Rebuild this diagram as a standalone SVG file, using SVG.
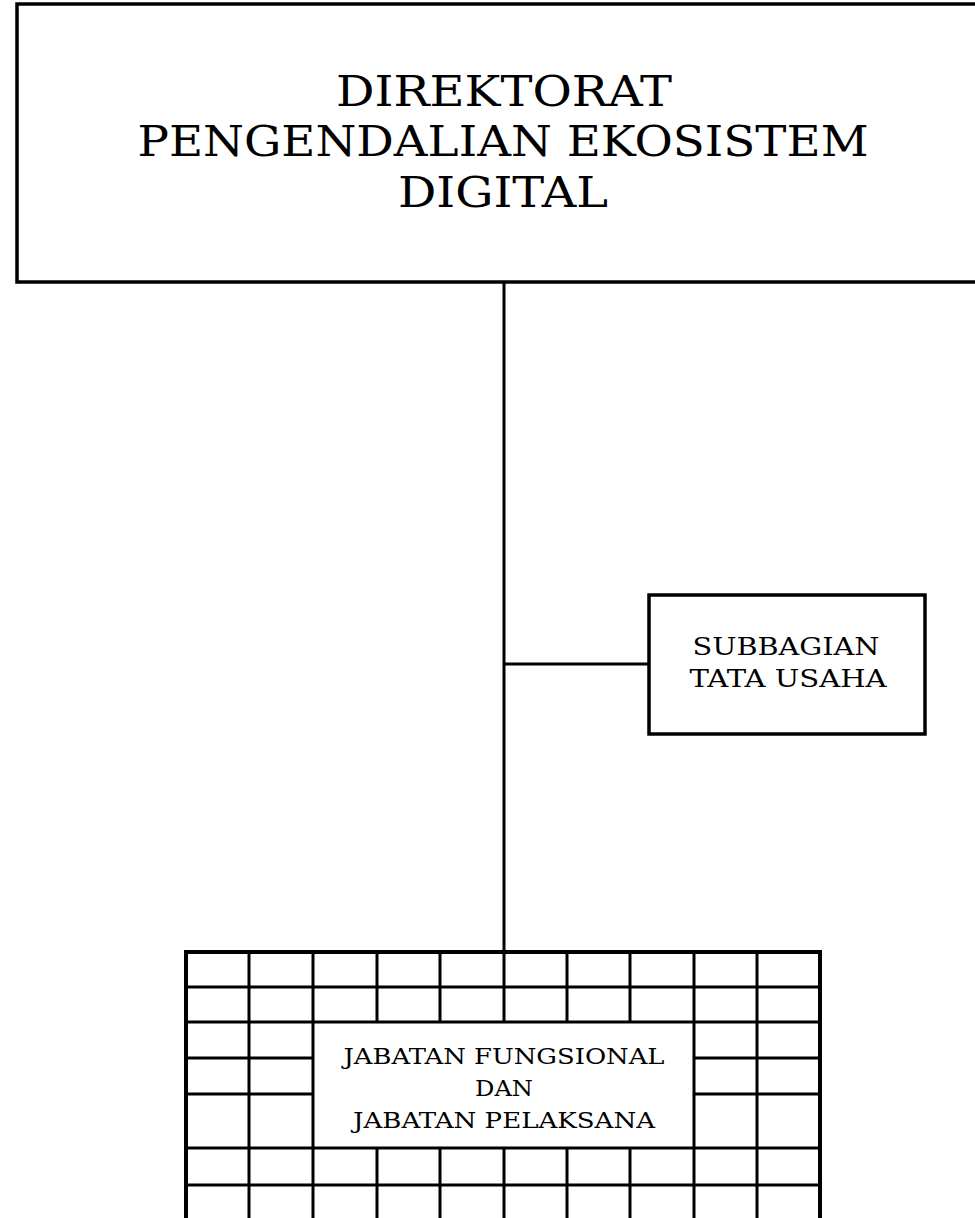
<svg xmlns="http://www.w3.org/2000/svg" width="975" height="1218" viewBox="0 0 975 1218">
<style>
.box{fill:#fff;stroke:#000;stroke-width:3.5}
.ln{stroke:#000;stroke-width:3;fill:none}
.ob{stroke:#000;stroke-width:4;fill:none}
text{font-family:"DejaVu Serif","Liberation Serif",serif;fill:#000;text-anchor:middle}
.t1{font-size:42px}
.t2{font-size:25px}
.t3{font-size:22px}
</style>
<rect width="975" height="1218" fill="#fff"/>
<g id="connectors">
<line class="ln" x1="504" y1="282" x2="504" y2="952"/>
<line class="ln" x1="504" y1="664" x2="649" y2="664"/>
</g>
<g id="direktorat">
<rect class="box" x="17" y="4" width="970" height="278"/>
<text class="t1" x="504" y="106" textLength="336" lengthAdjust="spacingAndGlyphs">DIREKTORAT</text>
<text class="t1" x="503" y="156" textLength="731" lengthAdjust="spacingAndGlyphs">PENGENDALIAN EKOSISTEM</text>
<text class="t1" x="503" y="207" textLength="210" lengthAdjust="spacingAndGlyphs">DIGITAL</text>
</g>
<g id="subbagian">
<rect class="box" x="649" y="595" width="276" height="139"/>
<text class="t2" x="786" y="655" textLength="187" lengthAdjust="spacingAndGlyphs">SUBBAGIAN</text>
<text class="t2" x="788" y="687" textLength="197" lengthAdjust="spacingAndGlyphs">TATA USAHA</text>
</g>
<g id="jabatan">
<rect x="186" y="952" width="634" height="270" fill="#fff"/>
<!-- full horizontal lines -->
<path class="ln" d="M186 987H820M186 1022H820M186 1148H820M186 1185H820"/>
<!-- side horizontal lines -->
<path class="ln" d="M186 1058H313M186 1094H313M694 1058H820M694 1094H820"/>
<!-- full vertical lines -->
<path class="ln" d="M249 952V1222M313 952V1222M694 952V1222M757 952V1222"/>
<!-- interrupted vertical lines -->
<path class="ln" d="M377 952V1022M440 952V1022M504 952V1022M567 952V1022M630 952V1022M377 1148V1222M440 1148V1222M504 1148V1222M567 1148V1222M630 1148V1222"/>
<path class="ob" d="M186 1222V952H820V1222"/>
<text class="t3" x="504" y="1064" textLength="321" lengthAdjust="spacingAndGlyphs">JABATAN FUNGSIONAL</text>
<text class="t3" x="504" y="1096" textLength="58" lengthAdjust="spacingAndGlyphs">DAN</text>
<text class="t3" x="504" y="1128" textLength="302" lengthAdjust="spacingAndGlyphs">JABATAN PELAKSANA</text>
</g>
</svg>
